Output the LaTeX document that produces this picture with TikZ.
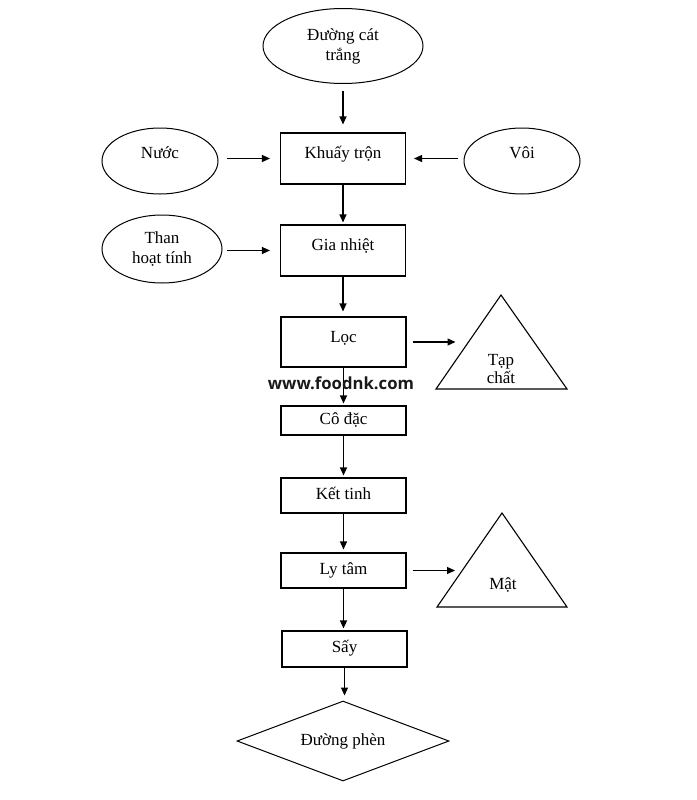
\documentclass[tikz,border=0pt]{standalone}
\usepackage{fontspec}
\setmainfont{Liberation Serif}
\newfontfamily\wmfont{Open Sans}
\usetikzlibrary{shapes.geometric,arrows.meta}
\begin{document}
\begin{tikzpicture}[x=1pt,y=-1pt,
  txt/.style={font=\fontsize{17}{20}\selectfont, align=center},
  proc/.style={txt, draw, line width=1.1pt, minimum width=125pt, inner sep=0pt, text height=11pt, text depth=4pt},
  tallproc/.style={proc, text depth=11pt},
  term/.style={txt, draw, ellipse, line width=1pt, inner sep=0pt},
  arr/.style={line width=1.2pt, -{Triangle[length=8pt,width=7pt]}},
  tri/.style={line width=1.1pt, line join=miter}
]
\path[use as bounding box] (0,0) rectangle (696,800);

\node[term, minimum width=160pt, minimum height=75pt] (start) at (343,46) {Đường cát\\trắng};
\node[tallproc, minimum height=51pt] (mix) at (343,158.5) {Khuấy trộn};
\node[term, minimum width=116pt, minimum height=66pt, text height=11pt, text depth=17pt] (nuoc) at (160,161) {Nước};
\node[term, minimum width=116pt, minimum height=66pt, text height=11pt, text depth=17pt] (voi) at (522,161) {Vôi};
\node[tallproc, minimum height=51pt] (heat) at (343,250.5) {Gia nhiệt};
\node[term, minimum width=120pt, minimum height=68pt] (than) at (162,249) {Than\\hoạt tính};
\node[tallproc, minimum height=50pt] (loc) at (343.5,342) {Lọc};
\node[proc, minimum height=29pt] (co) at (343.5,420.5) {Cô đặc};
\node[proc, minimum height=35pt] (ket) at (343.5,495.5) {Kết tinh};
\node[proc, minimum height=35pt] (ly) at (343.5,570.5) {Ly tâm};
\node[proc, minimum height=36pt] (say) at (344.5,649) {Sấy};
\node[txt, draw, diamond, line width=1pt, inner sep=0pt, minimum width=212pt, minimum height=80pt, aspect=2.65] (phen) at (343,741) {Đường phèn};

% triangles
\draw[tri] (436,389) -- (501,295) -- (567,389) -- cycle;
\node[txt, font=\fontsize{17}{18}\selectfont] (tapchat) at (501,369) {Tạp\\chất};
\coordinate (tapL) at (468.5,342);
\draw[tri] (437,607) -- (502,513) -- (567,607) -- cycle;
\node[txt] (mat) at (503,585) {Mật};
\coordinate (matL) at (462.6,570.5);

% connectors
\draw[arr, shorten <=7pt, shorten >=8pt] (start.south) -- (mix.north);
\draw[arr, shorten <=8pt, shorten >=10pt] (nuoc.east |- mix.west) -- (mix.west);
\draw[arr, shorten <=6pt, shorten >=8pt] (voi.west |- mix.east) -- (mix.east);
\draw[arr, shorten >=2pt] (mix.south) -- (heat.north);
\draw[arr, shorten <=4pt, shorten >=10pt] (than.east |- heat.west) -- (heat.west);
\draw[arr, shorten >=5pt] (heat.south) -- (heat.south |- loc.north);
\draw[arr, shorten <=6pt, shorten >=13pt] (loc.east) -- (tapL);
\draw[arr, shorten >=2pt] (loc.south) -- (co.north);
\draw[arr, shorten >=2pt] (co.south) -- (ket.north);
\draw[arr, shorten >=3pt] (ket.south) -- (ly.north);
\draw[arr, shorten <=6pt, shorten >=7.6pt] (ly.east) -- (matL);
\draw[arr, shorten >=2pt] (ly.south) -- (ly.south |- say.north);
\draw[arr, shorten >=5pt] (say.south) -- (say.south |- phen.north);

\node[font=\wmfont\bfseries\fontsize{16.7}{18}\selectfont, text=black!90] (wm) at (341,383) {www.foodnk.com};
\end{tikzpicture}
\end{document}
